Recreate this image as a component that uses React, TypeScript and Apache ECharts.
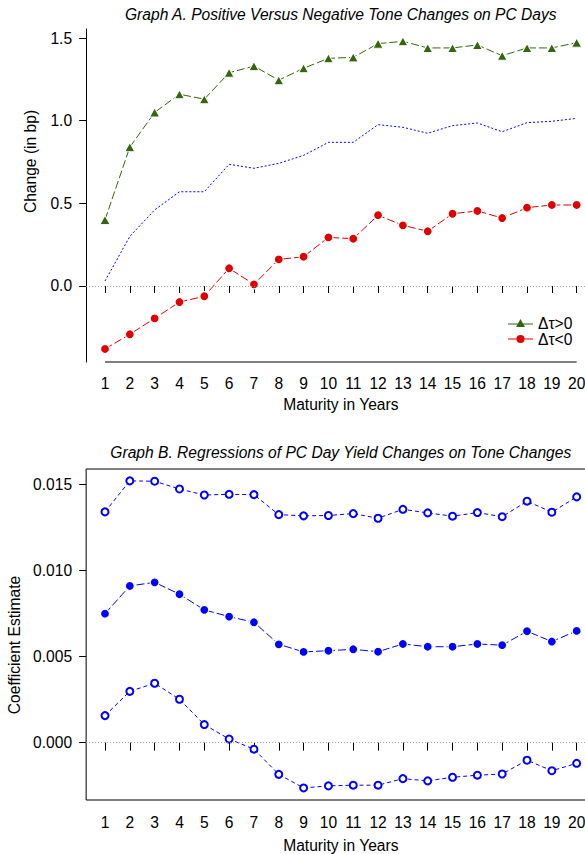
import React, { useEffect, useRef } from "react";
import * as echarts from "echarts";

const maturities = [1, 2, 3, 4, 5, 6, 7, 8, 9, 10, 11, 12, 13, 14, 15, 16, 17, 18, 19, 20];
const posTone = [0.40, 0.84, 1.05, 1.16, 1.13, 1.29, 1.33, 1.245, 1.317, 1.377, 1.383, 1.466, 1.48, 1.44, 1.44, 1.458, 1.393, 1.44, 1.44, 1.472];
const negTone = [-0.381, -0.292, -0.196, -0.097, -0.062, 0.107, 0.010, 0.161, 0.177, 0.294, 0.286, 0.428, 0.367, 0.331, 0.437, 0.454, 0.411, 0.474, 0.49, 0.49];
const midTone = [0.03, 0.30, 0.46, 0.57, 0.57, 0.736, 0.712, 0.742, 0.79, 0.869, 0.869, 0.976, 0.96, 0.924, 0.97, 0.986, 0.933, 0.988, 0.996, 1.014];

const coefEst = [0.00749, 0.0091, 0.00931, 0.00862, 0.00771, 0.00732, 0.00699, 0.00571, 0.00527, 0.00534, 0.00542, 0.00528, 0.00573, 0.00557, 0.00557, 0.00573, 0.00566, 0.00647, 0.00587, 0.00649];
const coefUpper = [0.0134, 0.0152, 0.01518, 0.01473, 0.01438, 0.01442, 0.0144, 0.01324, 0.01317, 0.01319, 0.0133, 0.01303, 0.01355, 0.01334, 0.01315, 0.01336, 0.01312, 0.01402, 0.01338, 0.01427];
const coefLower = [0.00157, 0.00298, 0.00345, 0.00252, 0.00105, 0.00021, -0.00038, -0.00184, -0.00263, -0.00251, -0.00247, -0.00247, -0.00209, -0.00222, -0.00201, -0.00189, -0.00182, -0.00102, -0.00163, -0.0012];

const aTicks = [0, 0.5, 1.0, 1.5];
const bTicks = [0, 0.005, 0.01, 0.015];

const X_MIN = 0.24;
const X_MAX = 20.76;
const A_MIN = -0.4597;
const A_MAX = 1.5545;
const B_MIN = -0.00333;
const B_MAX = 0.01589;

const GREEN = "#36650f";
const RED = "#e00000";
const BLUE = "#0000ff";
const FONT = "'Liberation Sans', Arial, Helvetica, sans-serif";
const FS = 15.6;

const pairs = (ys: number[]) => maturities.map((m, i) => [m, ys[i]]);

const TRI_ICON = "path://M0,4.6H10.4V5.4H0Z M14.6,4.6H25V5.4H14.6Z M12.5,0L17,8L8,8Z";
const CIRC_ICON = "path://M0,3.6H8.6V4.4H0Z M16.4,3.6H25V4.4H16.4Z M8.5,4A4,4 0 1,0 16.5,4A4,4 0 1,0 8.5,4Z";

export default function App() {
  const ref = useRef<HTMLDivElement>(null);
  useEffect(() => {
    if (!ref.current) return;
    const chart = echarts.init(ref.current, null, { renderer: "svg" });
    const gridW = 509.4;
    const xAxisBase = (gridIndex: number, labelMargin: number, tickLen: number, nameGap: number) => ({
      type: "value",
      gridIndex,
      min: X_MIN,
      max: X_MAX,
      name: "Maturity in Years",
      nameLocation: "middle",
      nameGap,
      nameTextStyle: { fontFamily: FONT, fontSize: FS, color: "#000" },
      axisLine: { show: false },
      splitLine: { show: false },
      axisTick: { show: true, length: tickLen, customValues: maturities, lineStyle: { color: "#000" } },
      axisLabel: { customValues: maturities, margin: labelMargin, fontFamily: FONT, fontSize: FS, color: "#000", hideOverlap: false },
    });
    const texts: any[] = [
      { type: "text", x: 340.8, y: 14, style: { text: "Graph A. Positive Versus Negative Tone Changes on PC Days", font: `italic ${FS}px ${FONT}`, fill: "#000", align: "center", verticalAlign: "middle" } },
      { type: "text", x: 340.8, y: 452, style: { text: "Graph B. Regressions of PC Day Yield Changes on Tone Changes", font: `italic ${FS}px ${FONT}`, fill: "#000", align: "center", verticalAlign: "middle" } },
      { type: "text", x: 30, y: 161.5, rotation: Math.PI / 2, style: { text: "Change (in bp)", font: `${FS}px ${FONT}`, fill: "#000", align: "center", verticalAlign: "middle" } },
      { type: "text", x: 14, y: 645, rotation: Math.PI / 2, style: { text: "Coefficient Estimate", font: `${FS}px ${FONT}`, fill: "#000", align: "center", verticalAlign: "middle" } },
    ];
    const option: any = {
      animation: false,
      backgroundColor: "#fff",
      grid: [
        { left: 86.13, top: 29, width: gridW, height: 333, containLabel: false, outerBoundsMode: "none" },
        { left: 86.13, top: 469, width: gridW, height: 331, show: true, borderColor: "#000", borderWidth: 1, containLabel: false, outerBoundsMode: "none" },
      ],
      xAxis: [xAxisBase(0, 13, 7, 34), xAxisBase(1, 14, 8, 37)],
      yAxis: [
        {
          type: "value",
          gridIndex: 0,
          min: A_MIN,
          max: A_MAX,
          axisLine: { show: true, onZero: false, lineStyle: { color: "#000", width: 1 } },
          splitLine: { show: false },
          axisTick: { show: true, length: 7, customValues: aTicks, lineStyle: { color: "#000" } },
          axisLabel: { customValues: aTicks, margin: 14, fontFamily: FONT, fontSize: FS, color: "#000", formatter: (v: number) => v.toFixed(1) },
        },
        {
          type: "value",
          gridIndex: 1,
          min: B_MIN,
          max: B_MAX,
          axisLine: { show: false },
          splitLine: { show: false },
          axisTick: { show: true, length: 7, customValues: bTicks, lineStyle: { color: "#000" } },
          axisLabel: { customValues: bTicks, margin: 14, fontFamily: FONT, fontSize: FS, color: "#000", formatter: (v: number) => v.toFixed(3) },
        },
      ],
      legend: {
        data: [
          { name: "Δτ>0", icon: TRI_ICON },
          { name: "Δτ<0", icon: CIRC_ICON },
        ],
        orient: "vertical",
        left: 508,
        top: 315,
        padding: 0,
        itemGap: 0,
        itemWidth: 25,
        itemHeight: 14,
        textStyle: { fontFamily: FONT, fontSize: FS, color: "#000", lineHeight: 16 },
        itemStyle: { borderWidth: 0 },
      },
      graphic: texts,
      series: [
        {
          type: "line", xAxisIndex: 0, yAxisIndex: 0, name: "mid", symbol: "none",
          data: pairs(midTone),
          lineStyle: { color: BLUE, width: 1, type: [2, 2] }, z: 2,
          markLine: {
            silent: true, symbol: "none", label: { show: false },
            lineStyle: { color: "#999", type: [1, 2], width: 1 },
            data: [{ yAxis: 0 }],
          },
        },
        {
          type: "line", xAxisIndex: 0, yAxisIndex: 0, name: "Δτ>0",
          data: pairs(posTone),
          symbol: "triangle", symbolSize: [10, 9],
          itemStyle: { color: GREEN, borderColor: "#fff", borderWidth: 1 },
          lineStyle: { color: GREEN, width: 1, type: [8, 3] }, z: 3,
        },
        {
          type: "line", xAxisIndex: 0, yAxisIndex: 0, name: "Δτ<0",
          data: pairs(negTone),
          symbol: "circle", symbolSize: 9,
          itemStyle: { color: RED, borderColor: "#fff", borderWidth: 1.2 },
          lineStyle: { color: RED, width: 1, type: [8, 3] }, z: 3,
        },
        {
          type: "line", xAxisIndex: 1, yAxisIndex: 1, name: "upper",
          data: pairs(coefUpper),
          symbol: "emptyCircle", symbolSize: 7,
          itemStyle: { color: BLUE, borderColor: BLUE, borderWidth: 1.3 },
          lineStyle: { color: BLUE, width: 1, type: [4, 3] }, z: 3,
          markLine: {
            silent: true, symbol: "none", label: { show: false },
            lineStyle: { color: "#999", type: [1, 2], width: 1 },
            data: [{ yAxis: 0 }],
          },
        },
        {
          type: "line", xAxisIndex: 1, yAxisIndex: 1, name: "estimate",
          data: pairs(coefEst),
          symbol: "circle", symbolSize: 9,
          itemStyle: { color: BLUE, borderColor: "#fff", borderWidth: 1.2 },
          lineStyle: { color: BLUE, width: 1, type: [8, 3] }, z: 3,
        },
        {
          type: "line", xAxisIndex: 1, yAxisIndex: 1, name: "lower",
          data: pairs(coefLower),
          symbol: "emptyCircle", symbolSize: 7,
          itemStyle: { color: BLUE, borderColor: BLUE, borderWidth: 1.3 },
          lineStyle: { color: BLUE, width: 1, type: [4, 3] }, z: 3,
        },
      ],
    };
    chart.setOption(option);

    // R-style x-axis line for Graph A, spanning first to last tick, placed via the chart's own scales
    const finder = { xAxisIndex: 0, yAxisIndex: 0 };
    const xa0 = chart.convertToPixel(finder, [maturities[0], A_MIN]) as number[];
    const xa1 = chart.convertToPixel(finder, [maturities[maturities.length - 1], A_MIN]) as number[];
    chart.setOption({
      graphic: [
        ...texts,
        { type: "rect", shape: { x: xa0[0], y: Math.round(xa0[1]) - 0.5, width: xa1[0] - xa0[0], height: 1 }, style: { fill: "#000" }, z: 10 },
      ],
    });
    return () => chart.dispose();
  }, []);
  return (
    <div
      ref={ref}
      style={{ position: "fixed", left: 0, top: 0, width: 585, height: 854, background: "#fff" }}
    />
  );
}
